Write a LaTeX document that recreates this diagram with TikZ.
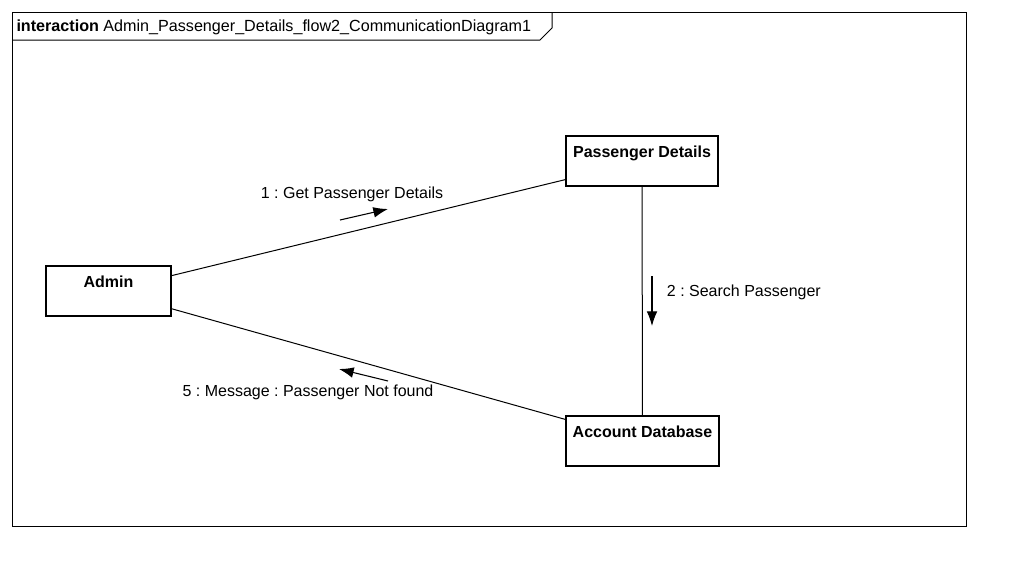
\documentclass[tikz,border=0pt]{standalone}
\usepackage{fontspec}
\setmainfont{Liberation Sans}
\usetikzlibrary{arrows.meta,positioning}
\frenchspacing

\tikzset{
  obj/.style={draw, line width=0.9pt, inner sep=0pt, font=\fontsize{12}{14}\selectfont\bfseries,
    text height=15.75pt, text depth=21.75pt},
  msg/.style={-{Latex[length=11pt,width=8pt]}, line width=0.8pt},
  lbl/.style={font=\fontsize{12}{14}\selectfont}
}

\begin{document}
\begin{tikzpicture}[x=0.75pt, y=-0.75pt, line width=0.75pt]
\useasboundingbox (0,0) rectangle (1016,576);
% frame
\draw (12,12) rectangle (966,526);
\draw (12,40) -- (540,40) -- (552,28) -- (552,12);
\node [lbl, font=\fontsize{12.1}{14}\selectfont, anchor=base west, inner sep=0pt] (title) at (16,31) {\textbf{interaction} Admin\_Passenger\_Details\_flow2\_CommunicationDiagram1};
% objects
\node [obj, minimum width=93.75pt] (admin) at (108.5,291) {Admin};
\node [obj, minimum width=114pt] (pdetails) at (642,161) {Passenger Details};
\node [obj, minimum width=114.75pt] (accdb) at (642.5,441) {Account Database};
% links
\draw (admin) -- (pdetails);
\draw (admin) -- (accdb);
\draw (pdetails) -- (accdb);
% messages
\coordinate (m1a) at (340,220);
\coordinate (m1b) at (388,209);
\coordinate (m2a) at (652,276);
\coordinate (m2b) at (652,326);
\coordinate (m5a) at (388,381);
\coordinate (m5b) at (339,369);
\draw [msg] (m1a) -- (m1b);
\draw [msg] (m2a) -- (m2b);
\draw [msg] (m5a) -- (m5b);
\node [lbl] (m1) at (352,194) {1 : Get Passenger Details};
\node [lbl, anchor=west] (m2) at (662,292) {2 : Search Passenger};
\node [lbl] (m5) at (308,392) {5 : Message : Passenger Not found};
\end{tikzpicture}
\end{document}
